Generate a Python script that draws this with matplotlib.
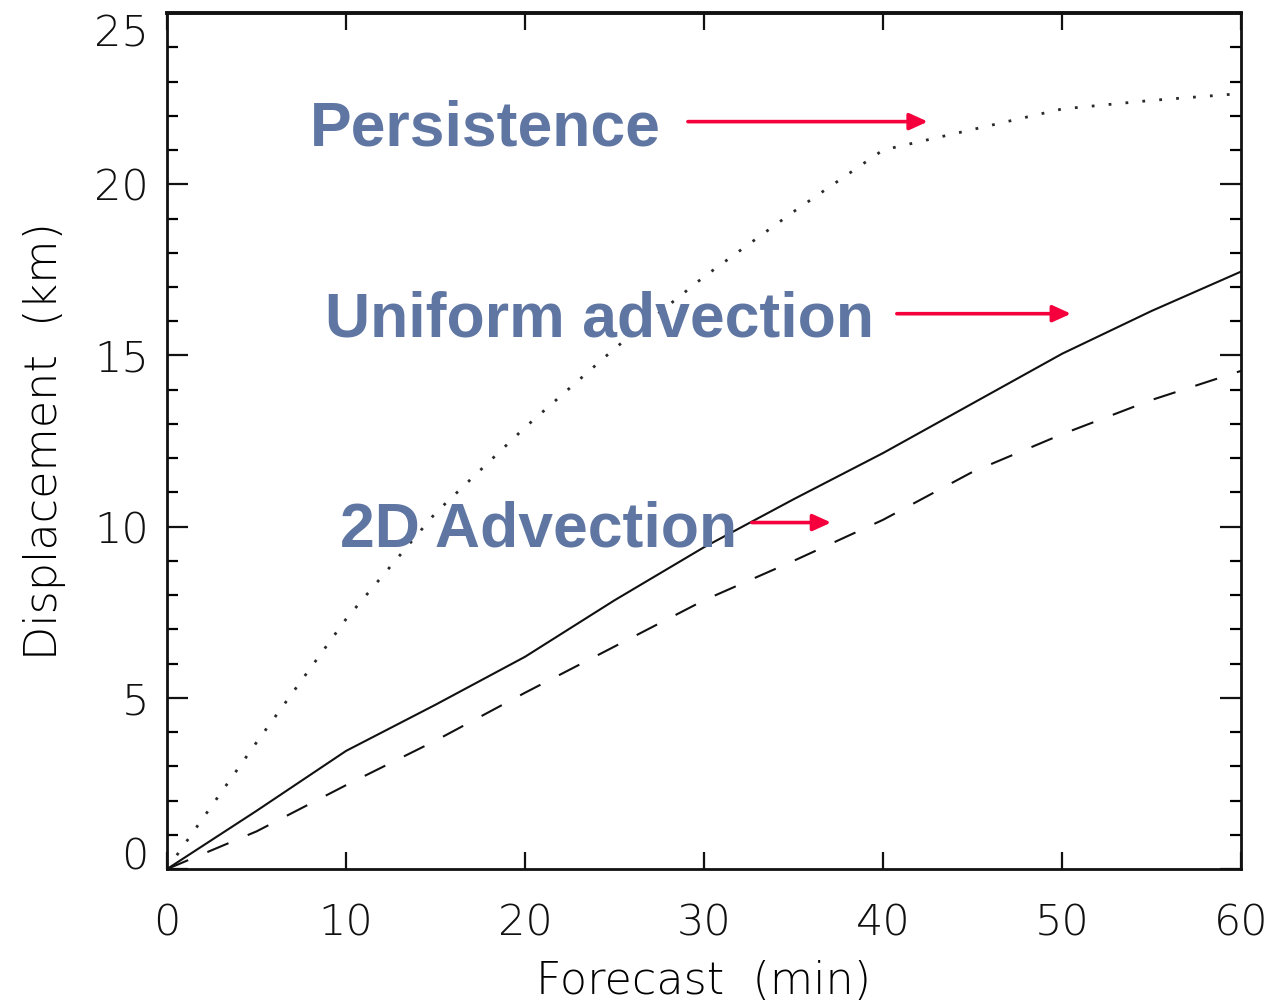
import matplotlib.pyplot as plt
from matplotlib.ticker import MultipleLocator

# forecast lead time (min) and mean displacement (km)
lead_time = [0, 5, 10, 15, 20, 25, 30, 35, 40, 45, 50, 55, 60]
persistence = [0, 3.7, 7.3, 10.4, 12.9, 15.2, 17.3, 19.2, 21.0, 21.6, 22.2, 22.45, 22.65]
uniform_adv = [0, 1.7, 3.45, 4.8, 6.2, 7.85, 9.4, 10.8, 12.15, 13.6, 15.05, 16.3, 17.45]
adv_2d = [0, 1.1, 2.45, 3.75, 5.15, 6.5, 7.85, 9.0, 10.2, 11.6, 12.7, 13.7, 14.55]

x_ticks = [0, 10, 20, 30, 40, 50, 60]
y_ticks = [0, 5, 10, 15, 20, 25]

label_color = '#5f76a3'
arrow_color = '#f5003c'

fig = plt.figure(figsize=(12.78, 10.07), dpi=100)
ax = fig.add_axes([0.1307, 0.137, 0.8404, 0.850])

ax.plot(lead_time, persistence, color='#2a2a2a', lw=2.0, linestyle=(0, (1.0, 5.1)))
ax.plot(lead_time, uniform_adv, color='#111111', lw=1.5)
ax.plot(lead_time, adv_2d, color='#111111', lw=1.5, linestyle=(0, (11, 10)))

ax.set_xlim(0, 60)
ax.set_ylim(0, 25)
ax.set_xticks(x_ticks)
ax.set_yticks(y_ticks)
ax.yaxis.set_minor_locator(MultipleLocator(1))

for side, s in ax.spines.items():
    s.set_linewidth(2.8 if side == 'top' else 2.0)
    s.set_color('#111111')

ax.tick_params(axis='x', which='major', direction='in', top=True, length=12,
               width=1.6, pad=24, labelsize=31, colors='#111111')
ax.tick_params(axis='y', which='major', direction='in', right=True, length=15,
               width=1.6, pad=13, labelsize=31, colors='#111111')
ax.tick_params(axis='y', which='minor', direction='in', right=True, length=8,
               width=1.6)
for lab in ax.get_xticklabels() + ax.get_yticklabels():
    lab.set_fontweight('light')

# IDL-style end labels kept inside the axis range
ylabs = ax.get_yticklabels()
ylabs[0].set_va('baseline')
ylabs[-1].set_va('top')

ax.set_xlabel('Forecast  (min)', fontsize=32, fontweight='light', labelpad=12)
ax.set_ylabel('Displacement  (km)', fontsize=32, fontweight='light', labelpad=20)

# curve labels and pointers
ax.text(7.99, 21.14, 'Persistence', family='Liberation Sans', fontweight='bold',
        fontsize=45, color=label_color, va='baseline', ha='left')
ax.text(8.85, 15.54, 'Uniform advection', family='Liberation Sans', fontweight='bold',
        fontsize=45, color=label_color, va='baseline', ha='left')
ax.text(9.65, 9.43, '2D Advection', family='Liberation Sans', fontweight='bold',
        fontsize=45, color=label_color, va='baseline', ha='left')

arrow_kw = dict(arrowstyle='-|>,head_length=0.55,head_width=0.25', mutation_scale=20,
                lw=2.6, color=arrow_color, shrinkA=0, shrinkB=0)
ax.annotate('', xy=(42.5, 21.83), xytext=(29.1, 21.83), arrowprops=arrow_kw)
ax.annotate('', xy=(50.5, 16.22), xytext=(40.77, 16.22), arrowprops=arrow_kw)
ax.annotate('', xy=(37.1, 10.12), xytext=(32.67, 10.12), arrowprops=arrow_kw)

fig.savefig('out.png', dpi=100)
